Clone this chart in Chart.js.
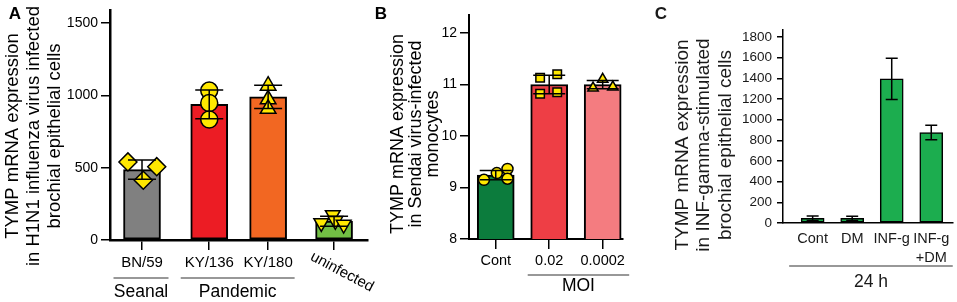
<!DOCTYPE html>
<html>
<head>
<meta charset="utf-8">
<script src="https://cdn.jsdelivr.net/npm/chart.js@4"></script>
<style>
  html, body { margin: 0; padding: 0; background: #fff; }
  #wrap { position: relative; width: 957px; height: 302px; overflow: hidden; }
  canvas { position: absolute; top: 0; }
</style>
</head>
<body>
<div id="wrap">
  <canvas id="chartA" width="380" height="302" style="left:0px"></canvas>
  <canvas id="chartB" width="270" height="302" style="left:370px"></canvas>
  <canvas id="chartC" width="327" height="302" style="left:630px"></canvas>
</div>
<script>
var FONT = '"Liberation Sans", Arial, sans-serif';

// ---- panel A: H1N1 infected epithelial cells
var catsA = ['BN/59', 'KY/136', 'KY/180', 'uninfected'];
var posA = [0.5, 1.55, 2.47, 3.5];
var meanA = [487, 938, 990, 130];
var sdA = [67, 100, 80, 35];
var ptsA = [[540, 507, 413], [1033, 947, 833], [1067, 973, 907], [118, 173, 133, 107]];
var jitA = [[-0.22, 0.23, 0.02], [0, 0, 0], [0, 0, 0], [-0.2, -0.02, 0.02, 0.15]];
var ticksA = [0, 500, 1000, 1500];
var groupsA = ['Seanal', 'Pandemic'];
var groupSpanA = [[0, 0], [1, 2]];

// ---- panel B: Sendai virus infected monocytes
var catsB = ['Cont', '0.02', '0.0002'];
var posB = [0.5, 1.5, 2.5];
var meanB = [9.24, 11.0, 11.0];
var sdB = [0.09, 0.18, 0.08];
var ptsB = [[9.15, 9.28, 9.36, 9.17], [11.13, 11.2, 10.82, 10.85], [10.93, 11.1, 10.95]];
var jitB = [[-0.22, 0.02, 0.22, 0.22], [-0.17, 0.15, -0.17, 0.15], [-0.18, 0, 0.19]];
var ticksB = [8, 9, 10, 11, 12];
var groupsB = ['MOI'];
var groupSpanB = [[1, 2]];

// ---- panel C: INF-gamma stimulated epithelial cells
var catsC = ['Cont', 'DM', 'INF-g', ['INF-g', '+DM']];
var posC = [0.75, 1.75, 2.75, 3.75];
var meanC = [45, 45, 1395, 875];
var sdC = [22, 20, 200, 70];
var ticksC = [0, 200, 400, 600, 800, 1000, 1200, 1400, 1600, 1800];
var groupsC = ['24 h'];
var groupSpanC = [[0, 3]];

var extras = {
  id: 'extras',
  afterDatasetsDraw: function(chart) {
    var o = chart.options.plugins.extras;
    var ctx = chart.ctx, x = chart.scales.x, y = chart.scales.y;
    ctx.save();
    ctx.strokeStyle = '#000';
    ctx.lineWidth = o.errW;
    o.pos.forEach(function(p, i) {
      var px = x.getPixelForValue(p);
      var t = y.getPixelForValue(o.mean[i] + o.sd[i]);
      var b = y.getPixelForValue(o.mean[i] - o.sd[i]);
      ctx.beginPath();
      ctx.moveTo(px, t); ctx.lineTo(px, b);
      ctx.moveTo(px - o.cap / 2, t); ctx.lineTo(px + o.cap / 2, t);
      ctx.moveTo(px - o.cap / 2, b); ctx.lineTo(px + o.cap / 2, b);
      ctx.stroke();
    });
    ctx.restore();
  },
  afterDraw: function(chart) {
    var o = chart.options.plugins.extras;
    var ctx = chart.ctx, x = chart.scales.x, area = chart.chartArea;
    ctx.save();
    ctx.fillStyle = o.color;
    ctx.textAlign = 'center';
    ctx.textBaseline = 'middle';

    ctx.font = 'bold 17px ' + FONT;
    ctx.fillText(o.letter, o.letterX, o.letterY);

    ctx.font = o.titleSize + 'px ' + FONT;
    o.title.forEach(function(line, i) {
      ctx.save();
      ctx.translate(o.titleX[i], o.titleY);
      ctx.rotate(-Math.PI / 2);
      ctx.fillText(line, 0, 0);
      ctx.restore();
    });

    ctx.font = o.labelSize + 'px ' + FONT;
    o.labels.forEach(function(lab, i) {
      var px = x.getPixelForValue(o.pos[i]);
      var rot = (o.labelRot && o.labelRot[i]) || 0;
      [].concat(lab).forEach(function(l, k) {
        ctx.save();
        if (rot) {
          ctx.translate(px + o.rotDx, area.bottom + o.rotDy);
          ctx.rotate(rot * Math.PI / 180);
        } else {
          ctx.translate(px, area.bottom + o.labelDy + k * o.labelLH);
        }
        ctx.fillText(l, 0, 0);
        ctx.restore();
      });
    });

    o.groups.forEach(function(g, i) {
      var span = o.groupSpan[i];
      var x0 = x.getPixelForValue(o.pos[span[0]]) - o.barW / 2 - o.gPadL;
      var x1 = x.getPixelForValue(o.pos[span[1]]) + o.barW / 2 + o.gPadR;
      ctx.strokeStyle = '#333';
      ctx.lineWidth = 1.2;
      ctx.beginPath();
      ctx.moveTo(x0, area.bottom + o.gLineDy);
      ctx.lineTo(x1, area.bottom + o.gLineDy);
      ctx.stroke();
      ctx.font = '17.5px ' + FONT;
      ctx.fillText(g, (x0 + x1) / 2, area.bottom + o.gLabelDy);
    });
    ctx.restore();
  }
};

function buildPoints(pos, pts, jit, shapes, rots, radii) {
  var data = [], style = [], rot = [], rad = [];
  pts.forEach(function(list, i) {
    list.forEach(function(v, j) {
      data.push({x: pos[i] + jit[i][j], y: v});
      style.push(shapes[i]);
      rot.push(rots[i]);
      rad.push(radii[i]);
    });
  });
  return {
    type: 'scatter',
    data: data,
    order: 1,
    pointStyle: style,
    pointRotation: rot,
    pointRadius: rad,
    pointBackgroundColor: '#ffe800',
    pointBorderColor: '#000',
    pointBorderWidth: 1.5
  };
}

function makeChart(id, s) {
  var datasets = [{
    type: 'bar',
    order: 2,
    data: s.pos.map(function(p, i) { return {x: p, y: s.mean[i]}; }),
    backgroundColor: s.colors,
    borderColor: '#000',
    borderWidth: s.barBorder,
    borderSkipped: false,
    barThickness: s.barW
  }];
  if (s.points) datasets.push(s.points);

  new Chart(document.getElementById(id).getContext('2d'), {
    type: 'bar',
    data: {datasets: datasets},
    options: {
      responsive: false,
      animation: false,
      events: [],
      layout: {padding: {left: 0, top: s.top, right: s.right, bottom: 0}},
      plugins: {
        legend: {display: false},
        tooltip: {enabled: false},
        extras: {
          pos: s.pos, mean: s.mean, sd: s.sd, cap: s.cap, errW: s.errW,
          color: s.color, letter: s.letter, letterX: s.letterX, letterY: 14,
          title: s.title, titleX: s.titleX, titleY: s.titleY, titleSize: s.titleSize,
          labels: s.labels, labelSize: s.labelSize, labelDy: s.labelDy, labelLH: 19,
          labelRot: s.labelRot, rotDx: s.rotDx, rotDy: s.rotDy,
          groups: s.groups, groupSpan: s.groupSpan, barW: s.barW,
          gPadL: s.gPadL, gPadR: s.gPadR, gLineDy: s.gLineDy, gLabelDy: s.gLabelDy
        }
      },
      scales: {
        x: {
          type: 'linear',
          min: 0,
          max: s.xMax,
          offset: false,
          afterBuildTicks: function(sc) { sc.ticks = s.pos.map(function(v) { return {value: v}; }); },
          ticks: {display: false},
          grid: {offset: false, drawOnChartArea: false, drawTicks: s.xTicks, tickLength: 10, color: '#000', lineWidth: 1.5},
          border: {color: '#000', width: s.axisW},
          afterFit: function(sc) {
            sc.height = 302 - s.bottom;
            sc.paddingLeft = 0; sc.paddingRight = 0;
          }
        },
        y: {
          min: s.yMin,
          max: s.yMax,
          afterBuildTicks: function(sc) { sc.ticks = s.yTicks.map(function(v) { return {value: v}; }); },
          ticks: {
            color: s.color,
            padding: s.tickPad,
            font: {family: FONT, size: s.tickSize},
            callback: function(v) { return String(v); }
          },
          grid: {drawOnChartArea: false, tickLength: s.tickLen, color: '#000', lineWidth: 1.5},
          border: {color: '#000', width: s.axisW},
          afterFit: function(sc) {
            sc.width = s.yW;
            sc.paddingTop = 0; sc.paddingBottom = 0;
          }
        }
      }
    },
    plugins: [extras]
  });
}

makeChart('chartA', {
  pos: posA, mean: meanA, sd: sdA,
  colors: ['#808080', '#ec1c24', '#f26722', '#72bf44'],
  points: buildPoints(posA, ptsA, jitA, ['rectRot', 'circle', 'triangle', 'triangle'], [0, 0, 0, 180], [9, 8.5, 9, 8.5]),
  barW: 37, barBorder: 2, cap: 28, errW: 1.5, axisW: 2.5,
  top: 3, bottom: 240, right: 12, yW: 110, xMax: 4.03,
  yMin: 0, yMax: 1587, yTicks: ticksA, tickSize: 14, tickLen: 9, tickPad: 3, xTicks: true,
  color: '#000', letter: 'A', letterX: 15,
  title: ['TYMP mRNA expression', 'in H1N1 influenza virus infected', 'brochial epithelial cells'],
  titleX: [13, 34, 55], titleY: 136, titleSize: 18.5,
  labels: catsA, labelSize: 15, labelDy: 23, labelRot: [0, 0, 0, 28], rotDx: 8, rotDy: 32,
  groups: groupsA, groupSpan: groupSpanA, gPadL: 10, gPadR: 8, gLineDy: 38, gLabelDy: 52
});

makeChart('chartB', {
  pos: posB, mean: meanB, sd: sdB,
  colors: ['#0c7c3d', '#ee3e45', '#f47c80'],
  points: buildPoints(posB, ptsB, jitB, ['circle', 'rect', 'triangle'], [0, 0, 0], [5.5, 6, 6]),
  barW: 37, barBorder: 2, cap: 32, errW: 1.5, axisW: 2,
  top: 15, bottom: 239, right: 17, yW: 99, xMax: 2.88,
  yMin: 8, yMax: 12.35, yTicks: ticksB, tickSize: 14, tickLen: 9, tickPad: 3, xTicks: true,
  color: '#000', letter: 'B', letterX: 11,
  title: ['TYMP mRNA expression', 'in Sendai virus-infected', 'monocytes'],
  titleX: [28, 46, 63], titleY: 134, titleSize: 18,
  labels: catsB, labelSize: 14.5, labelDy: 22,
  groups: groupsB, groupSpan: groupSpanB, gPadL: 3, gPadR: 8, gLineDy: 36, gLabelDy: 47
});

makeChart('chartC', {
  pos: posC, mean: meanC, sd: sdC,
  colors: '#1cad4f',
  points: null,
  barW: 23, barBorder: 1.5, cap: 12, errW: 1.5, axisW: 1.5,
  top: 30, bottom: 223, right: 4, yW: 153, xMax: 4.3,
  yMin: 0, yMax: 1868, yTicks: ticksC, tickSize: 13.5, tickLen: 6, tickPad: 5, xTicks: false,
  color: '#1a1a1a', letter: 'C', letterX: 31,
  title: ['TYMP mRNA expression', 'in INF-gamma-stimulated', 'brochial epithelial cells'],
  titleX: [53, 74, 96], titleY: 145, titleSize: 19,
  labels: catsC, labelSize: 14.5, labelDy: 16,
  groups: groupsC, groupSpan: groupSpanC, gPadL: 12, gPadR: 10, gLineDy: 43, gLabelDy: 59
});
</script>
</body>
</html>
